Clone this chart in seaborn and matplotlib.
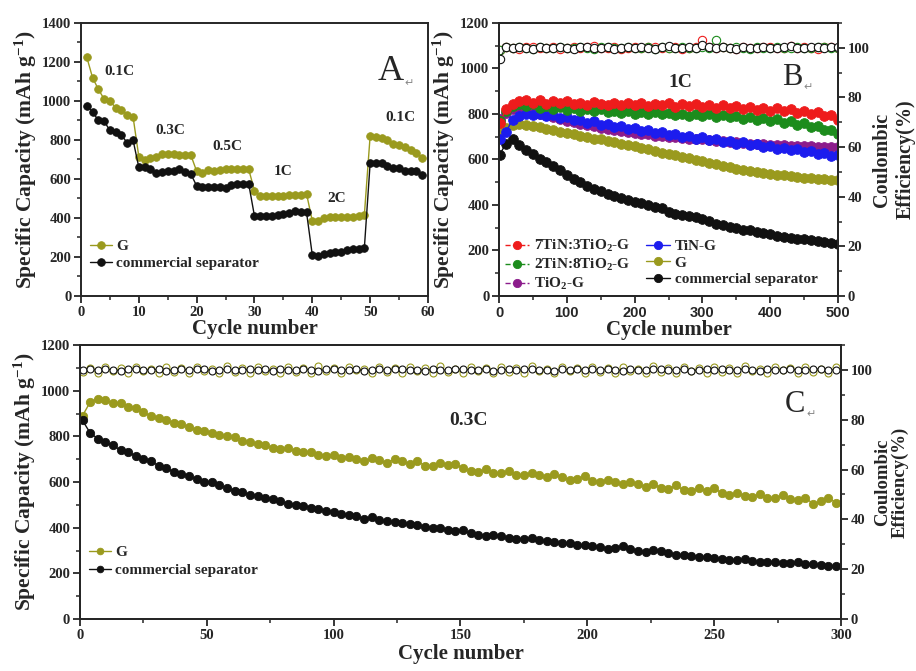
import numpy as np
import matplotlib
matplotlib.use("Agg")
import matplotlib.pyplot as plt
from matplotlib.ticker import MultipleLocator
import seaborn as sns

# ---------- panel A: rate capability ----------
rate_cycles = list(range(1, 60))
rate_g = [1225, 1120, 1060, 1010, 1000, 965, 955, 930, 920,
          715, 695, 705, 715, 730, 730, 730, 725, 725, 722,
          640, 630, 645, 640, 645, 650, 650, 650, 650, 650,
          540, 515, 515, 515, 515, 515, 518, 520, 520, 525,
          385, 385, 400, 405, 405, 405, 405, 405, 410, 415,
          820, 815, 810, 800, 780, 775, 765, 750, 735, 710]
rate_comm = [975, 945, 900, 895, 850, 840, 825, 785, 800,
             660, 660, 650, 630, 635, 640, 640, 650, 635, 625,
             565, 560, 560, 560, 560, 555, 570, 575, 575, 575,
             410, 410, 410, 410, 415, 420, 425, 435, 430, 430,
             210, 205, 215, 220, 225, 228, 235, 240, 242, 245,
             680, 680, 680, 665, 655, 655, 640, 640, 640, 620]
rate_labels = ["0.1C", "0.3C", "0.5C", "1C", "2C", "0.1C"]

# ---------- panel B: 1C cycling ----------
b_cycles = [1] + list(range(10, 501, 10))
b_red = [760,
         820, 845, 855, 860, 850, 860, 845, 858, 848, 855,
         842, 850, 840, 852, 845, 838, 850, 840, 848, 838,
         850, 835, 845, 838, 848, 832, 845, 835, 842, 830,
         840, 828, 838, 825, 835, 822, 832, 818, 828, 815,
         825, 812, 820, 805, 815, 800, 810, 790, 795, 775]
b_green = [770,
           815, 835, 845, 835, 842, 828, 835, 822, 830, 818,
           826, 815, 822, 812, 820, 808, 815, 805, 812, 802,
           810, 800, 808, 798, 805, 795, 802, 792, 800, 790,
           798, 788, 795, 785, 792, 780, 788, 775, 782, 770,
           776, 762, 768, 752, 760, 742, 748, 728, 730, 712]
b_purple = [780,
            805, 820, 825, 815, 810, 800, 795, 785, 780, 770,
            765, 755, 752, 745, 740, 735, 730, 725, 722, 718,
            712, 710, 705, 702, 700, 698, 695, 692, 690, 688,
            685, 682, 680, 678, 675, 672, 670, 668, 667, 665,
            664, 662, 660, 660, 658, 657, 656, 655, 655, 655]
b_blue = [690,
          720, 775, 790, 800, 795, 802, 790, 795, 782, 785,
          772, 775, 760, 768, 752, 758, 742, 748, 735, 740,
          725, 730, 718, 722, 708, 712, 700, 705, 692, 698,
          685, 690, 678, 682, 670, 675, 662, 668, 655, 660,
          648, 652, 640, 645, 632, 638, 625, 630, 615, 620]
b_olive = [720,
           740, 750, 755, 752, 745, 742, 735, 730, 722, 718,
           712, 705, 700, 692, 688, 680, 675, 668, 662, 658,
           650, 645, 638, 630, 625, 618, 610, 605, 598, 592,
           585, 578, 572, 565, 560, 555, 550, 545, 540, 538,
           532, 530, 526, 522, 520, 518, 515, 512, 510, 508]
b_black = [620,
           670, 690, 665, 640, 625, 600, 590, 570, 555, 530,
           515, 500, 485, 470, 460, 450, 440, 432, 420, 412,
           410, 400, 390, 385, 370, 362, 358, 350, 345, 340,
           328, 318, 312, 305, 298, 292, 288, 282, 275, 272,
           265, 260, 255, 252, 250, 248, 242, 238, 235, 230]
b_ce_red = [99.0,
            100.4, 100.0, 99.6, 100.2, 100.5, 99.8, 100.1, 100.3, 99.7, 100.0,
            100.4, 99.9, 100.2, 100.6, 99.8, 100.1, 100.3, 99.7, 100.0, 100.5,
            99.9, 100.2, 100.4, 99.8, 100.1, 100.3, 99.6, 100.0, 100.4, 103.0,
            100.2, 99.9, 100.3, 100.1, 99.7, 100.5, 100.0, 99.8, 100.2, 100.4,
            99.9, 100.1, 100.6, 99.8, 100.3, 100.0, 99.7, 100.2, 100.4, 100.1]
b_ce_green = [99.2,
              100.2, 99.8, 100.4, 100.0, 99.7, 100.3, 100.1, 99.9, 100.5, 100.0,
              99.8, 100.3, 100.1, 99.6, 100.2, 100.4, 99.9, 100.0, 100.3, 99.8,
              100.1, 100.5, 99.7, 100.2, 100.0, 99.9, 100.3, 100.1, 99.8, 100.4,
              100.0, 103.2, 100.2, 99.9, 100.4, 100.1, 99.7, 100.3, 100.0, 99.8,
              100.5, 100.1, 99.9, 100.3, 100.0, 99.8, 100.4, 100.2, 99.9, 100.1]
b_ce_black = [95.5,
              100.5, 99.8, 100.2, 100.0, 99.6, 100.3, 100.1, 99.9, 100.4, 100.0,
              99.7, 100.2, 100.5, 99.8, 100.0, 100.3, 99.6, 100.1, 100.4, 99.9,
              100.2, 100.0, 99.7, 100.3, 100.6, 99.8, 100.1, 100.4, 99.9, 101.0,
              100.2, 99.8, 100.3, 100.0, 99.7, 100.4, 100.1, 99.9, 100.5, 100.0,
              99.8, 100.3, 100.6, 100.1, 99.9, 100.4, 100.2, 99.8, 100.5, 100.3]

# ---------- panel C: 0.3C cycling ----------
c_cycles = list(range(1, 300, 3))
c_g = [890, 950, 965, 960, 945, 948, 930, 925, 905, 890,
       880, 870, 860, 855, 840, 830, 825, 815, 805, 800,
       795, 780, 775, 765, 760, 750, 745, 748, 735, 730,
       732, 720, 715, 720, 705, 710, 700, 690, 705, 695,
       685, 700, 690, 680, 690, 672, 668, 685, 675, 680,
       660, 650, 645, 655, 640, 638, 648, 632, 630, 640,
       630, 620, 635, 620, 610, 615, 625, 605, 600, 610,
       598, 590, 600, 590, 580, 592, 575, 570, 585, 565,
       560, 572, 560, 575, 550, 545, 552, 540, 535, 548,
       530, 530, 542, 525, 520, 530, 505, 515, 530, 510]
c_comm = [870, 815, 790, 775, 760, 740, 730, 715, 700, 690,
          672, 660, 645, 635, 628, 612, 600, 598, 585, 575,
          562, 555, 545, 540, 530, 525, 518, 505, 500, 495,
          488, 480, 475, 470, 462, 455, 450, 440, 445, 435,
          428, 425, 420, 415, 410, 402, 400, 398, 390, 385,
          388, 375, 370, 365, 368, 362, 355, 352, 350, 355,
          345, 340, 338, 332, 335, 325, 322, 318, 315, 308,
          310, 318, 305, 298, 295, 302, 300, 290, 282, 280,
          278, 272, 270, 265, 262, 260, 258, 262, 255, 250,
          248, 250, 245, 245, 248, 242, 240, 235, 232, 230]
c_ce_g = [99.0, 100.8, 98.6, 101.2, 99.4, 100.6, 98.8, 101.0, 99.6, 100.4,
          98.7, 101.3, 99.2, 100.7, 98.9, 101.1, 99.5, 100.3, 98.6, 101.4,
          99.3, 100.9, 98.8, 101.0, 99.7, 100.5, 98.7, 101.2, 99.1, 100.8,
          98.9, 101.5, 99.4, 100.6, 98.6, 101.1, 99.8, 100.4, 98.8, 101.3,
          99.2, 100.7, 98.7, 101.0, 99.5, 100.9, 98.9, 101.4, 99.3, 100.5,
          98.6, 101.2, 99.6, 100.8, 98.8, 101.1, 99.0, 100.6, 98.7, 101.5,
          99.4, 100.4, 98.9, 101.0, 99.7, 100.9, 98.6, 101.3, 99.2, 100.7,
          98.8, 101.1, 99.5, 100.5, 98.7, 101.4, 99.1, 100.8, 98.9, 101.2,
          99.6, 100.6, 98.6, 101.0, 99.3, 100.9, 98.8, 101.5, 99.4, 100.4,
          98.7, 101.1, 99.8, 100.7, 98.9, 101.3, 99.0, 100.5, 98.6, 101.2]
c_ce_comm = [99.8, 100.3, 99.9, 100.4, 100.0, 99.7, 100.2, 100.5, 99.8, 100.1,
             100.3, 99.6, 100.0, 100.4, 99.9, 100.2, 100.5, 99.7, 100.1, 100.3,
             99.8, 100.0, 100.4, 99.9, 100.2, 99.6, 100.3, 100.1, 99.8, 100.5,
             100.0, 99.7, 100.2, 100.4, 99.9, 100.1, 100.3, 99.6, 100.0, 100.4,
             99.8, 100.2, 100.5, 99.9, 100.1, 99.7, 100.3, 100.0, 99.8, 100.4,
             100.2, 99.9, 100.1, 100.5, 99.7, 100.0, 100.3, 99.8, 100.2, 100.4,
             99.9, 100.1, 99.6, 100.3, 100.0, 100.5, 99.8, 100.2, 99.9, 100.4,
             100.1, 99.7, 100.3, 100.0, 99.8, 100.5, 100.2, 99.9, 100.1, 100.3,
             99.6, 100.0, 100.4, 99.8, 100.2, 100.1, 99.9, 100.5, 100.0, 99.7,
             100.3, 100.1, 99.8, 100.4, 100.0, 99.9, 100.2, 100.5, 99.8, 100.1]

OLIVE = "#9a9a1e"
RED = "#ee1c1c"
GREEN = "#1c8c1c"
PURPLE = "#8c1c8c"
BLUE = "#1c1cee"
BLACK = "#111111"

sns.set_style("ticks")
plt.rcParams["font.family"] = ["Liberation Serif", "DejaVu Sans"]
plt.rcParams["font.weight"] = "bold"
plt.rcParams["axes.labelweight"] = "bold"
plt.rcParams["mathtext.default"] = "regular"
plt.rcParams["axes.linewidth"] = 1.4

fig = plt.figure(figsize=(9.16, 6.71), dpi=100)
ax_a = fig.add_axes([0.0884, 0.5589, 0.3788, 0.4069])
ax_b = fig.add_axes([0.5448, 0.5589, 0.3701, 0.4069])
ax_c = fig.add_axes([0.0873, 0.0775, 0.8308, 0.4083])

YLAB = "Specific Capacity (mAh g$^{-1}$)"


def style_axis(ax, xmaj, xmin, ymaj, ymin):
    ax.xaxis.set_major_locator(MultipleLocator(xmaj))
    ax.xaxis.set_minor_locator(MultipleLocator(xmin))
    ax.yaxis.set_major_locator(MultipleLocator(ymaj))
    ax.yaxis.set_minor_locator(MultipleLocator(ymin))
    ax.tick_params(which="major", direction="out", length=5, width=1.3, labelsize=10.5, pad=2)
    ax.tick_params(which="minor", direction="out", length=3, width=1.1)
    for s in ax.spines.values():
        s.set_visible(True)
        s.set_linewidth(1.4)


def cap_line(ax, x, y, color, ms, label=None, ls="-"):
    sns.lineplot(x=x, y=y, ax=ax, color=color, marker="o", markersize=ms,
                 markeredgecolor=color, markeredgewidth=0.6, linewidth=1.0,
                 linestyle=ls, label=label, legend=False)


def ce_points(ax, x, y, color, ms):
    sns.lineplot(x=x, y=y, ax=ax, color=color, marker="o", markersize=ms,
                 markerfacecolor="white", markeredgecolor=color, markeredgewidth=0.8,
                 linewidth=0.6, legend=False)


def panel_letter(ax, x, y, letter, size):
    t = ax.text(x, y, letter, fontsize=size, fontweight="normal", ha="center", va="center")
    ax.annotate("\u21b5", xy=(1, 0), xycoords=t, xytext=(1, 0), textcoords="offset points",
                fontsize=8, color="#888888", fontweight="normal", family="DejaVu Sans",
                va="bottom", ha="left")


# ---- A ----
cap_line(ax_a, rate_cycles, rate_g, OLIVE, 5.5, "G")
cap_line(ax_a, rate_cycles, rate_comm, BLACK, 5.5, "commercial separator")
ax_a.set_xlim(0, 60)
ax_a.set_ylim(0, 1400)
style_axis(ax_a, 10, 5, 200, 100)
ax_a.set_xlabel("Cycle number", fontsize=15, labelpad=0)
ax_a.set_ylabel(YLAB, fontsize=15.5, labelpad=2)
for lab, lx, ly in zip(rate_labels, [6.7, 15.4, 25.4, 35, 44.2, 55.2],
                       [1150, 850, 765, 636, 502, 913]):
    ax_a.text(lx, ly, lab, fontsize=11, ha="center", va="center")
panel_letter(ax_a, 53.5, 1150, "A", 26)
ax_a.legend(loc="lower left", bbox_to_anchor=(0.0, 0.06), frameon=False, fontsize=11,
            handlelength=1.4, handletextpad=0.3, borderaxespad=0.2, labelspacing=0.25)

# ---- B ----
axb2 = ax_b.twinx()
cap_line(ax_b, b_cycles, b_black, BLACK, 7, "commercial separator")
cap_line(ax_b, b_cycles, b_olive, OLIVE, 7, "G")
cap_line(ax_b, b_cycles, b_purple, PURPLE, 7, "TiO$_2$-G", "--")
cap_line(ax_b, b_cycles, b_blue, BLUE, 7, "TiN-G")
cap_line(ax_b, b_cycles, b_green, GREEN, 7, "2TiN:8TiO$_2$-G", "--")
cap_line(ax_b, b_cycles, b_red, RED, 7, "7TiN:3TiO$_2$-G", "--")
ce_points(axb2, b_cycles, b_ce_red, RED, 6)
ce_points(axb2, b_cycles, b_ce_green, GREEN, 6)
ce_points(axb2, b_cycles, b_ce_black, BLACK, 6)
ax_b.set_xlim(0, 500)
ax_b.set_ylim(0, 1200)
axb2.set_ylim(0, 110)
style_axis(ax_b, 100, 50, 200, 100)
style_axis(axb2, 100, 50, 20, 10)
ax_b.set_xlabel("Cycle number", fontsize=15, labelpad=0)
ax_b.set_ylabel(YLAB, fontsize=15.5, labelpad=2)
axb2.set_ylabel("Coulombic\nEfficiency(%)", fontsize=14.5, labelpad=2, multialignment="center")
for lbl in ax_b.get_xticklabels():
    lbl.set_fontfamily("Liberation Sans")
ax_b.text(267, 940, "1C", fontsize=14, ha="center", va="center")
panel_letter(ax_b, 432, 960, "B", 22)
hb, lb = ax_b.get_legend_handles_labels()
order = ["7TiN:3TiO$_2$-G", "2TiN:8TiO$_2$-G", "TiO$_2$-G", "TiN-G", "G", "commercial separator"]
hb = [hb[lb.index(o)] for o in order]
ax_b.legend(hb, order, loc="lower left", bbox_to_anchor=(-0.01, -0.02), ncol=2, frameon=False,
            fontsize=11, handlelength=1.6, handletextpad=0.3, columnspacing=1.0,
            labelspacing=0.2, borderaxespad=0.2, markerscale=0.85)

# ---- C ----
axc2 = ax_c.twinx()
cap_line(ax_c, c_cycles, c_g, OLIVE, 6, "G")
cap_line(ax_c, c_cycles, c_comm, BLACK, 6, "commercial separator")
ce_points(axc2, c_cycles, c_ce_g, OLIVE, 5)
ce_points(axc2, c_cycles, c_ce_comm, BLACK, 5)
ax_c.set_xlim(0, 300)
ax_c.set_ylim(0, 1200)
axc2.set_ylim(0, 110)
style_axis(ax_c, 50, 25, 200, 100)
style_axis(axc2, 50, 25, 20, 10)
ax_c.set_xlabel("Cycle number", fontsize=15, labelpad=2)
ax_c.set_ylabel(YLAB, fontsize=15.5, labelpad=2)
axc2.set_ylabel("Coulombic\nEfficiency(%)", fontsize=13.5, labelpad=1, linespacing=1.0,
                multialignment="center")
ax_c.text(153, 870, "0.3C", fontsize=14, ha="center", va="center")
panel_letter(ax_c, 282, 940, "C", 22)
ax_c.legend(loc="lower left", bbox_to_anchor=(0.0, 0.12), frameon=False, fontsize=11,
            handlelength=1.4, handletextpad=0.3, borderaxespad=0.2, labelspacing=0.25,
            markerscale=0.8)

fig.savefig("out.png", dpi=100)
